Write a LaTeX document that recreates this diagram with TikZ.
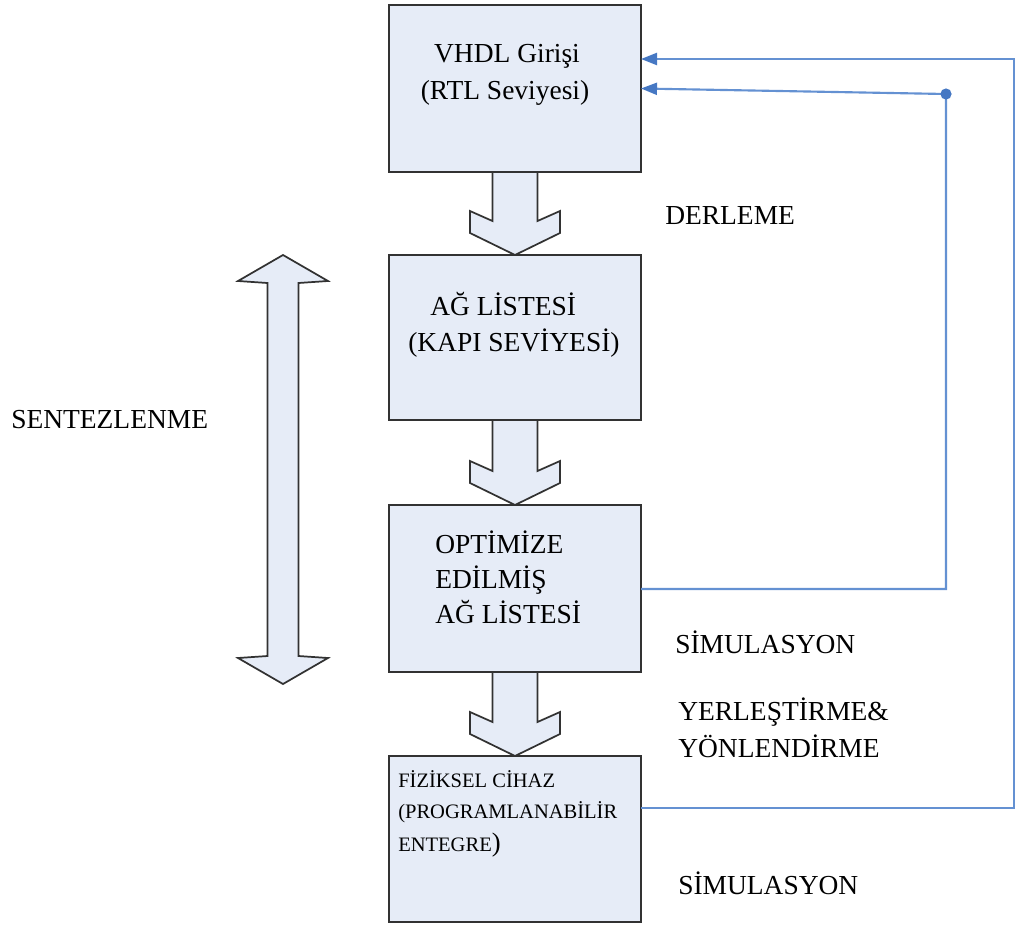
\documentclass[tikz,border=0pt]{standalone}
\usepackage{fontspec}
\setmainfont{Liberation Serif}
\usetikzlibrary{calc,arrows.meta}

\definecolor{boxfill}{RGB}{230,236,247}
\definecolor{boxline}{RGB}{50,50,50}
\definecolor{fbline}{RGB}{100,145,210}
\definecolor{fbdark}{RGB}{70,120,195}

\tikzset{
  stagebox/.style={draw=boxline, fill=boxfill, line width=1.6pt, inner sep=0pt, outer sep=0pt, minimum width=189pt},
  blk/.style={draw=boxline, fill=boxfill, line width=1.3pt, line join=miter},
  lbl/.style={inner sep=0pt, anchor=base west, text=black, font=\fontsize{20.6}{24}\selectfont},
  small/.style={lbl, font=\fontsize{15.4}{18}\selectfont},
  fb/.style={draw=fbline, line width=1.6pt},
  fbarrow/.style={fb, -{Triangle[length=12pt,width=9pt,color=fbdark]}}
}

% hollow downward block arrow from the bottom of one stage to the top of the next
\newcommand{\stagearrow}[2]{%
  \filldraw[blk] ($(#1.south)+(-22.5,0)$) -- ($(#2.north)+(-22.5,-34)$)
    -- ($(#2.north)+(-45,-44)$) -- ($(#2.north)+(-45,-22)$) -- (#2.north)
    -- ($(#2.north)+(45,-22)$) -- ($(#2.north)+(45,-44)$)
    -- ($(#2.north)+(22.5,-34)$) -- ($(#1.south)+(22.5,0)$) -- cycle;}

\begin{document}
\begin{tikzpicture}[x=0.75pt,y=-0.75pt]
\useasboundingbox (0,0) rectangle (1017,929);

% stages
\node[stagebox, minimum height=125.25pt] (b1) at (515,88.5) {};
\node[stagebox, minimum height=123.75pt] (b2) at (515,337.5) {};
\node[stagebox, minimum height=125.25pt] (b3) at (515,588.5) {};
\node[stagebox, minimum height=124.5pt]  (b4) at (515,839) {};

% block arrows between stages
\stagearrow{b1}{b2}
\stagearrow{b2}{b3}
\stagearrow{b3}{b4}

% double-headed synthesis arrow
\filldraw[blk] (283,255) -- (328,281) -- (298.5,283) -- (298.5,656) -- (328,658)
  -- (283,684) -- (238,658) -- (267.5,656) -- (267.5,283) -- (238,281) -- cycle;

% texts inside the stages
\node[lbl, anchor=base] (t1a) at (507,62) {VHDL Girişi};
\node[lbl, anchor=base] (t1b) at (505,99) {(RTL Seviyesi)};
\node[lbl] (t2a) at (430,315) {AĞ LİSTESİ};
\node[lbl] (t2b) at (408,351) {(KAPI SEVİYESİ)};
\node[lbl] (t3a) at (435,553) {OPTİMİZE};
\node[lbl] (t3b) at (435,588) {EDİLMİŞ};
\node[lbl] (t3c) at (435,623) {AĞ LİSTESİ};
\node[small] (t4a) at (398,787) {FİZİKSEL CİHAZ};
\node[small] (t4b) at (398,818) {(PROGRAMLANABİLİR};
\node[small] (t4c) at (398,851) {ENTEGRE{\fontsize{20}{24}\selectfont)}};

% side labels
\node[lbl] (derl) at (665,224) {DERLEME};
\node[lbl] (sent) at (11,428) {SENTEZLENME};
\node[lbl] (sim1) at (675,653) {SİMULASYON};
\node[lbl] (yer1) at (678,720) {YERLEŞTİRME\&};
\node[lbl] (yon1) at (678,757) {YÖNLENDİRME};
\node[lbl] (sim2) at (678,894) {SİMULASYON};

% feedback paths
\coordinate (r4) at (1014,808);
\coordinate (r1) at (1014,59);
\coordinate (r3) at (946,589);
\coordinate (dot) at (946,94);
\draw[fbarrow] (b4.east |- r4) -- (r4) -- (r1) -- (b1.east |- r1);
\draw[fbarrow] (b3.east |- r3) -- (r3) -- (dot) -- (b1.east);
\fill[fbdark] (dot) circle[radius=4.2pt];
\end{tikzpicture}
\end{document}
